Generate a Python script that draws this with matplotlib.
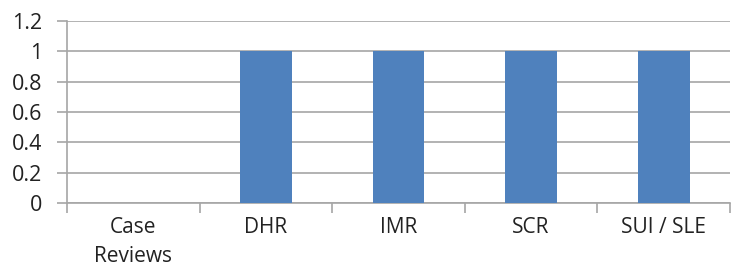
import matplotlib
matplotlib.use("Agg")
import matplotlib.pyplot as plt
import numpy as np

categories = ["Case\nReviews", "DHR", "IMR", "SCR", "SUI / SLE"]
values = [0, 1, 1, 1, 1]
yticks = [0, 0.2, 0.4, 0.6, 0.8, 1, 1.2]
ytick_labels = ["0", "0.2", "0.4", "0.6", "0.8", "1", "1.2"]

plt.rcParams['font.family'] = ['Open Sans', 'DejaVu Sans']

fig = plt.figure(figsize=(7.31, 2.73), dpi=100)
ax = fig.add_axes([67/731, 1-203/273, 663/731, (203-21)/273])

x = np.arange(len(categories))
ax.bar(x, values, width=0.39, color="#4F81BD", zorder=3)

ax.set_xlim(-0.5, len(categories) - 0.5)
ax.set_ylim(0, 1.2)
ax.set_yticks(yticks)
ax.set_yticklabels(ytick_labels, fontsize=15.5, color="#222222")
ax.yaxis.grid(True, color="#A6A6A6", linewidth=1.2, zorder=0)
ax.tick_params(axis='y', length=7, color="#A6A6A6", width=1.2, pad=11)

ax.set_xticks(x)
ax.set_xticklabels(categories, fontsize=15, color="#222222", linespacing=1.5)
ax.tick_params(axis='x', which='major', length=0, pad=10)
ax.set_xticks(np.arange(-0.5, len(categories), 1), minor=True)
ax.tick_params(axis='x', which='minor', length=7, color="#A6A6A6", width=1.2)

for s in ["top", "right"]:
    ax.spines[s].set_visible(False)
for s in ["left", "bottom"]:
    ax.spines[s].set_color("#A6A6A6")
    ax.spines[s].set_linewidth(1.2)

fig.savefig("out.png", dpi=100)
